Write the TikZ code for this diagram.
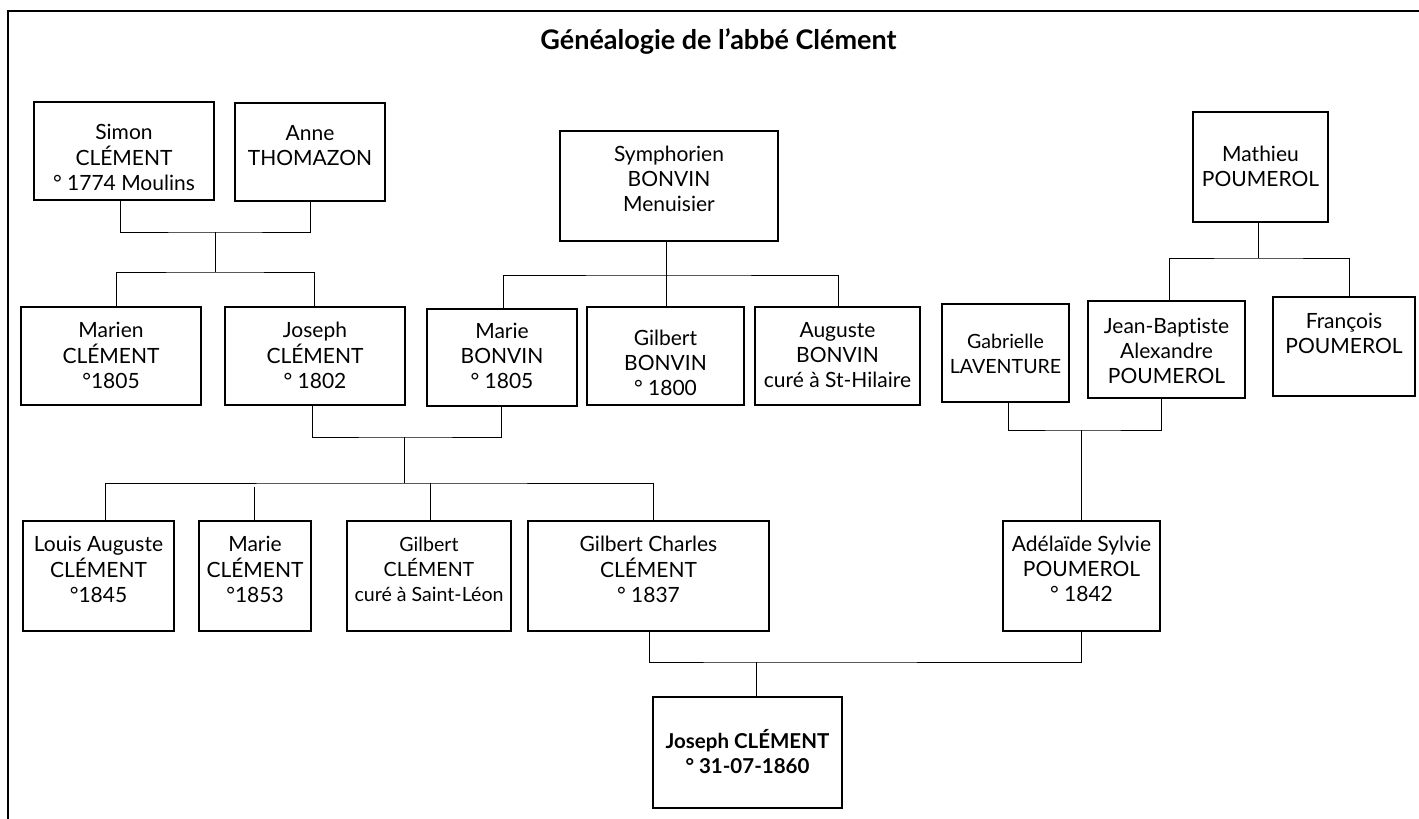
\documentclass[tikz,border=0pt]{standalone}
\usepackage{fontspec}
\setmainfont[Ligatures=NoCommon]{Lato}
\usetikzlibrary{fit}
\tikzset{
  pbox/.style={draw=black, line width=1.2pt, inner sep=0pt, rectangle},
  finalbox/.style={draw=black, line width=2.8pt, inner sep=0pt, rectangle},
  ptxt/.style={inner sep=0pt, font=\fontsize{21}{25}\selectfont},
  smalltxt/.style={font=\fontsize{19.6}{25}\selectfont},
  ftxt/.style={inner sep=0pt, font=\fontsize{20.5}{25}\selectfont\bfseries},
  conn/.style={draw=black, line width=1pt},
  frame/.style={draw=black, line width=1.6pt},
  titletxt/.style={inner sep=0pt, font=\fontsize{27}{30}\selectfont\bfseries}
}
\newcommand\personbox[8][]{%
  \node[pbox, fit={(#3,#4) (#5,#6)}] (#2) {};
  \node[ptxt, #1, anchor=base] (#2-t) at ({(#3+#5)/2},#7) {\begin{tabular}[t]{@{}c@{}}#8\end{tabular}};
}
\begin{document}
\begin{tikzpicture}[x=1pt,y=-1pt]
\useasboundingbox (0,0) rectangle (1419,819);
\draw[frame] (8,819) -- (8,11) -- (1419,11);
\node[titletxt, anchor=base] (title) at (718.5,49) {Généalogie de l’abbé Clément};

\personbox{simon}{34}{102}{214}{200}{139}{Simon\\CLÉMENT\\° 1774 Moulins}
\personbox{anne}{235}{103}{385}{201}{140}{Anne\\THOMAZON}
\personbox{marien}{21}{307}{201}{405}{337}{Marien\\CLÉMENT\\°1805}
\personbox{joseph}{225}{307}{405}{405}{337}{Joseph\\CLÉMENT\\° 1802}
\personbox{marieb}{427}{309}{577}{406}{338}{Marie\\BONVIN\\° 1805}
\personbox{gilbertb}{587}{307}{744}{405}{345}{Gilbert\\BONVIN\\° 1800}
\personbox{auguste}{755}{307}{920}{405}{337}{Auguste\\BONVIN\\curé à St-Hilaire}
\personbox{symph}{560}{131}{778}{241}{161}{Symphorien\\BONVIN\\Menuisier}
\personbox[smalltxt]{gabrielle}{942}{304}{1069}{402}{348}{Gabrielle\\LAVENTURE}
\personbox{jb}{1088}{301}{1245}{398}{333}{Jean-Baptiste\\Alexandre\\POUMEROL}
\personbox{francois}{1273}{297}{1415}{396}{328}{François\\POUMEROL}
\personbox{mathieu}{1193}{112}{1328}{222}{161}{Mathieu\\POUMEROL}
\personbox{louis}{23}{521}{174}{631}{551}{Louis Auguste\\CLÉMENT\\°1845}
\personbox{mariec}{199}{521}{311}{631}{551}{Marie\\CLÉMENT\\°1853}
\personbox[smalltxt]{gilbertc}{347}{521}{511}{631}{551}{Gilbert\\CLÉMENT\\curé à Saint-Léon}
\personbox{gcharles}{528}{521}{769}{631}{551}{Gilbert Charles\\CLÉMENT\\° 1837}
\personbox{adelaide}{1003}{521}{1160}{631}{551}{Adélaïde Sylvie\\POUMEROL\\° 1842}
\node[finalbox, fit={(653,697) (842,808)}] (final) {};
\node[ftxt, anchor=base] (final-t) at (747.5,748) {\begin{tabular}[t]{@{}c@{}}Joseph CLÉMENT\\° 31-07-1860\end{tabular}};

% junction coordinates
\coordinate (c1) at (215,232);
\coordinate (c2) at (215,272);
\coordinate (c3) at (666,275);
\coordinate (c4) at (1258,258);
\coordinate (c5) at (1081,430);
\coordinate (c6) at (404,437);
\coordinate (c7) at (404,483);
\coordinate (c8) at (756,662);

% Simon + Anne -> Marien, Joseph
\draw[conn] (simon.south -| 120,0) |- (c1) -| (anne.south -| 310,0);
\draw[conn] (c1) -- (c2);
\draw[conn] (marien.north -| 116,0) |- (c2) -| (joseph.north -| 314,0);

% Symphorien -> Marie, Gilbert, Auguste
\draw[conn] (symph.south -| 666,0) -- (c3);
\draw[conn] (marieb.north -| 503,0) |- (c3) -| (auguste.north -| 838,0);
\draw[conn] (c3) -- (gilbertb.north -| 666,0);

% Mathieu -> Jean-Baptiste, François
\draw[conn] (mathieu.south -| 1258,0) -- (c4);
\draw[conn] (jb.north -| 1169,0) |- (c4) -| (francois.north -| 1349,0);

% Gabrielle + Jean-Baptiste -> Adélaïde
\draw[conn] (gabrielle.south -| 1008,0) |- (c5) -| (jb.south -| 1161,0);
\draw[conn] (c5) -- (adelaide.north -| 1081,0);

% Joseph + Marie -> children
\draw[conn] (joseph.south -| 312,0) |- (c6) -| (marieb.south -| 501,0);
\draw[conn] (c6) -- (c7);
\draw[conn] (louis.north -| 105,0) |- (c7) -| (gcharles.north -| 653,0);
\draw[conn] (mariec.north -| 254,0) -- (254,487);
\draw[conn] (gilbertc.north -| 430,0) -- (c7 -| 430,0);

% Gilbert Charles + Adélaïde -> Joseph
\draw[conn] (gcharles.south -| 649,0) |- (c8) -| (adelaide.south -| 1081,0);
\draw[conn] (c8) -- (final.north -| 756,0);
\end{tikzpicture}
\end{document}
